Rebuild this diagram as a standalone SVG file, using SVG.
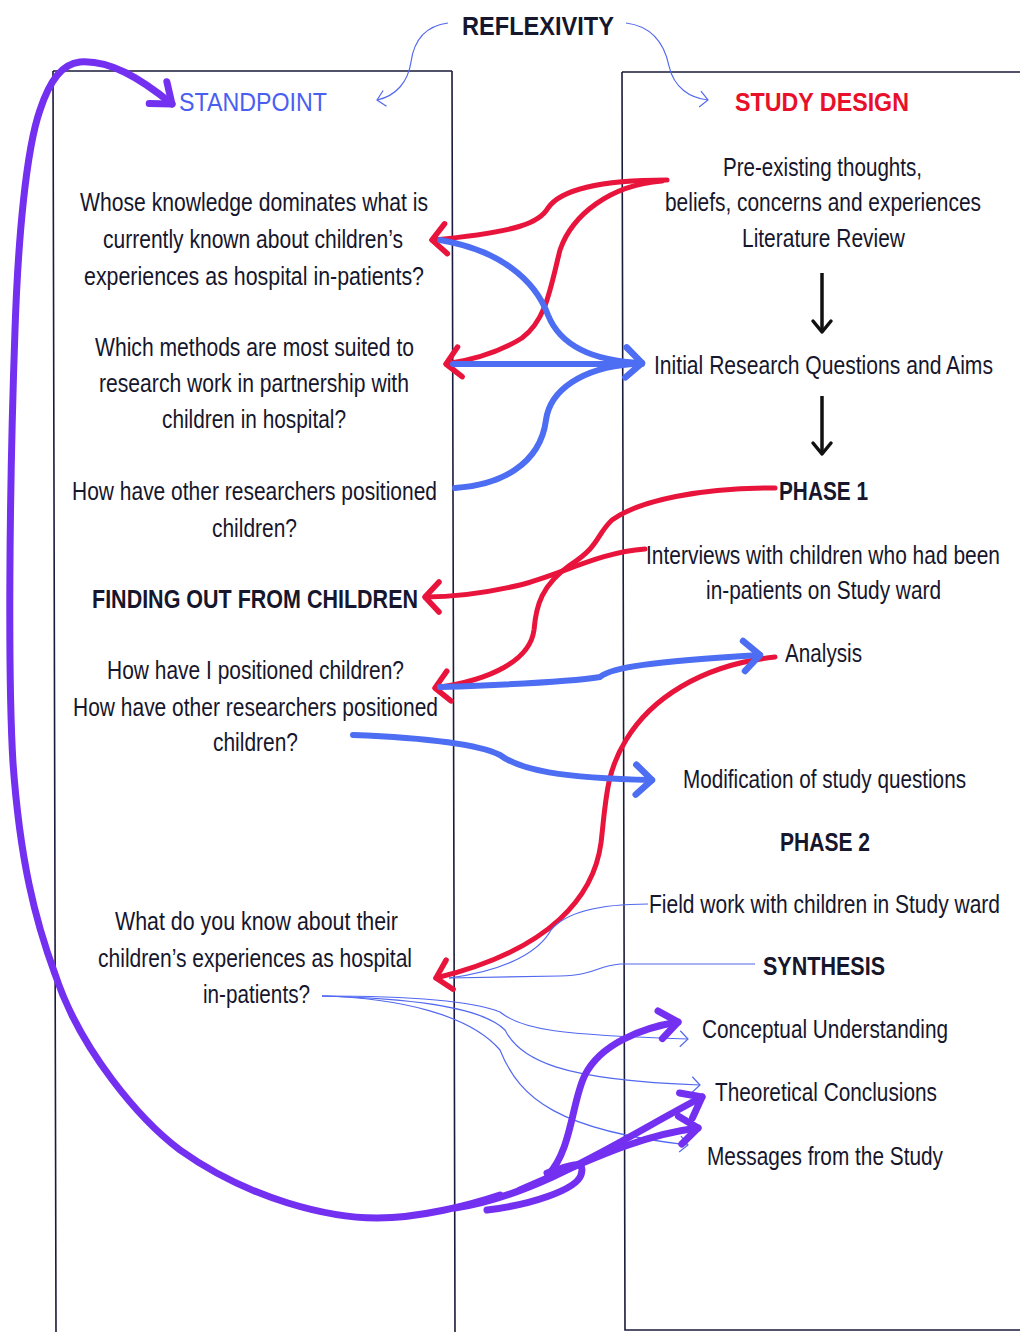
<svg xmlns="http://www.w3.org/2000/svg" width="1020" height="1332" viewBox="0 0 1020 1332">
<defs>
<style>
.t{font-family:"Liberation Sans",Arial,sans-serif;font-size:25px;fill:#16162c}
.b{font-weight:bold}
.box{fill:none;stroke:#1a1a3a;stroke-width:1.6}
.red{fill:none;stroke:#e8143c;stroke-width:5;stroke-linecap:round;marker-end:url(#mr)}
.blue{fill:none;stroke:#4d6df2;stroke-width:6;stroke-linecap:round}
.thin{fill:none;stroke:#5268f0;stroke-width:1.2}
.pur{fill:none;stroke:#7430f0;stroke-width:7;stroke-linecap:round}
</style>
<marker id="mr" viewBox="-20 -16 24 32" refX="0" refY="0" markerWidth="24" markerHeight="32" orient="auto" markerUnits="userSpaceOnUse" overflow="visible"><path d="M-14,-15 L0,0 L-14,15" fill="none" stroke="#e8143c" stroke-width="5.5" stroke-linecap="round" stroke-linejoin="round"/></marker>
<marker id="mb" viewBox="-22 -18 26 36" refX="0" refY="0" markerWidth="26" markerHeight="36" orient="auto" markerUnits="userSpaceOnUse" overflow="visible"><path d="M-16,-15 L0,0 L-16,15" fill="none" stroke="#4d6df2" stroke-width="6.5" stroke-linecap="round" stroke-linejoin="round"/></marker>
<marker id="mt" viewBox="-12 -10 14 20" refX="0" refY="0" markerWidth="14" markerHeight="20" orient="auto" markerUnits="userSpaceOnUse" overflow="visible"><path d="M-8,-8 L0,0 L-8,8" fill="none" stroke="#5268f0" stroke-width="1.2"/></marker>
<marker id="mp" viewBox="-24 -18 28 36" refX="0" refY="0" markerWidth="28" markerHeight="36" orient="auto" markerUnits="userSpaceOnUse" overflow="visible"><path d="M-18,-14 L0,0 L-18,14" fill="none" stroke="#7430f0" stroke-width="7" stroke-linecap="round" stroke-linejoin="round"/></marker>
<marker id="mk" viewBox="-14 -12 16 24" refX="0" refY="0" markerWidth="16" markerHeight="24" orient="auto" markerUnits="userSpaceOnUse" overflow="visible"><path d="M-11,-9 L0,0 L-11,9" fill="none" stroke="#111" stroke-width="3.5" stroke-linecap="round" stroke-linejoin="round"/></marker>
</defs>
<rect width="1020" height="1332" fill="#ffffff"/>

<g id="frames">
<path class="box" d="M53,71 L452,71 M53,71 L56,1332 M452,71 L455,1332"/>
<path class="box" d="M622,72 L1020,72 M622,72 L625,1330 L1020,1330"/>
</g>

<g id="title">
<text class="t b" font-size="28" transform="translate(462,35) scale(0.8,1)" textLength="190" lengthAdjust="spacingAndGlyphs">REFLEXIVITY</text>
</g>
<g id="standpoint">
<text class="t" font-size="28" style="fill:#4a5ef0" transform="translate(179,111) scale(0.8,1)" textLength="185" lengthAdjust="spacingAndGlyphs">STANDPOINT</text>
</g>
<g id="study-design">
<text class="t b" font-size="28" style="fill:#e8102a" transform="translate(735,111) scale(0.8,1)" textLength="217.5" lengthAdjust="spacingAndGlyphs">STUDY DESIGN</text>
</g>

<g id="q-knowledge">
<text class="t" transform="translate(80,211) scale(0.8,1)" textLength="435" lengthAdjust="spacingAndGlyphs">Whose knowledge dominates what is</text>
<text class="t" transform="translate(103,248) scale(0.8,1)" textLength="375" lengthAdjust="spacingAndGlyphs">currently known about children’s</text>
<text class="t" transform="translate(84,285) scale(0.8,1)" textLength="425" lengthAdjust="spacingAndGlyphs">experiences as hospital  in-patients?</text>
</g>
<g id="q-methods">
<text class="t" transform="translate(95,356) scale(0.8,1)" textLength="398.75" lengthAdjust="spacingAndGlyphs">Which methods are most suited to</text>
<text class="t" transform="translate(99,392) scale(0.8,1)" textLength="387.5" lengthAdjust="spacingAndGlyphs">research work in partnership  with</text>
<text class="t" transform="translate(162,428) scale(0.8,1)" textLength="230" lengthAdjust="spacingAndGlyphs">children in hospital?</text>
</g>
<g id="q-others">
<text class="t" transform="translate(72,500) scale(0.8,1)" textLength="456.25" lengthAdjust="spacingAndGlyphs">How have other researchers positioned</text>
<text class="t" transform="translate(212,537) scale(0.8,1)" textLength="106.25" lengthAdjust="spacingAndGlyphs">children?</text>
</g>
<g id="finding-out">
<text class="t b" transform="translate(92,608) scale(0.8,1)" textLength="407.5" lengthAdjust="spacingAndGlyphs">FINDING OUT FROM CHILDREN</text>
</g>
<g id="q-positioned">
<text class="t" transform="translate(107,679) scale(0.8,1)" textLength="371.25" lengthAdjust="spacingAndGlyphs">How have I positioned children?</text>
<text class="t" transform="translate(73,716) scale(0.8,1)" textLength="456.25" lengthAdjust="spacingAndGlyphs">How have other researchers positioned</text>
<text class="t" transform="translate(213,751) scale(0.8,1)" textLength="106.25" lengthAdjust="spacingAndGlyphs">children?</text>
</g>
<g id="q-parents">
<text class="t" transform="translate(115,930) scale(0.8,1)" textLength="353.75" lengthAdjust="spacingAndGlyphs">What  do you know about their</text>
<text class="t" transform="translate(98,967) scale(0.8,1)" textLength="392.5" lengthAdjust="spacingAndGlyphs">children’s experiences as hospital</text>
<text class="t" transform="translate(203,1003) scale(0.8,1)" textLength="133.75" lengthAdjust="spacingAndGlyphs">in-patients?</text>
</g>

<g id="pre-existing">
<text class="t" transform="translate(723,176) scale(0.8,1)" textLength="248.75" lengthAdjust="spacingAndGlyphs">Pre-existing thoughts,</text>
<text class="t" transform="translate(665,211) scale(0.8,1)" textLength="395" lengthAdjust="spacingAndGlyphs">beliefs, concerns and experiences</text>
<text class="t" transform="translate(742,247) scale(0.8,1)" textLength="203.75" lengthAdjust="spacingAndGlyphs">Literature Review</text>
</g>
<g id="initial">
<text class="t" transform="translate(654,374) scale(0.8,1)" textLength="423.75" lengthAdjust="spacingAndGlyphs">Initial Research Questions and Aims</text>
</g>
<g id="phase1">
<text class="t b" transform="translate(779,500) scale(0.8,1)" textLength="111.25" lengthAdjust="spacingAndGlyphs">PHASE 1</text>
</g>
<g id="interviews">
<text class="t" transform="translate(646,564) scale(0.8,1)" textLength="442.5" lengthAdjust="spacingAndGlyphs">Interviews with children who had been</text>
<text class="t" transform="translate(706,599) scale(0.8,1)" textLength="293.75" lengthAdjust="spacingAndGlyphs">in-patients on Study ward</text>
</g>
<g id="analysis">
<text class="t" transform="translate(785,662) scale(0.8,1)" textLength="96.25" lengthAdjust="spacingAndGlyphs">Analysis</text>
</g>
<g id="modification">
<text class="t" transform="translate(683,788) scale(0.8,1)" textLength="353.75" lengthAdjust="spacingAndGlyphs">Modification of study questions</text>
</g>
<g id="phase2">
<text class="t b" transform="translate(780,851) scale(0.8,1)" textLength="112.5" lengthAdjust="spacingAndGlyphs">PHASE 2</text>
</g>
<g id="fieldwork">
<text class="t" transform="translate(649,913) scale(0.8,1)" textLength="438.75" lengthAdjust="spacingAndGlyphs">Field work with children in Study ward</text>
</g>
<g id="synthesis">
<text class="t b" transform="translate(763,975) scale(0.8,1)" textLength="152.5" lengthAdjust="spacingAndGlyphs">SYNTHESIS</text>
</g>
<g id="conceptual">
<text class="t" transform="translate(702,1038) scale(0.8,1)" textLength="307.5" lengthAdjust="spacingAndGlyphs">Conceptual Understanding</text>
</g>
<g id="theoretical">
<text class="t" transform="translate(715,1101) scale(0.8,1)" textLength="277.5" lengthAdjust="spacingAndGlyphs">Theoretical Conclusions</text>
</g>
<g id="messages">
<text class="t" transform="translate(707,1165) scale(0.8,1)" textLength="295" lengthAdjust="spacingAndGlyphs">Messages from the Study</text>
</g>

<g id="connectors">
<path class="thin" d="M448,23 C425,26 414,40 411,62 C408,82 396,96 377,100" marker-end="url(#mt)"/>
<path class="thin" d="M626,23 C650,26 664,42 669,66 C674,88 690,98 708,100" marker-end="url(#mt)"/>
<path d="M822,273 L822,332" stroke="#111" stroke-width="3.5" marker-end="url(#mk)"/>
<path d="M822,396 L822,454" stroke="#111" stroke-width="3.5" marker-end="url(#mk)"/>
<path class="red" d="M667,180 C600,180 560,190 548,208 C540,222 520,232 432,240"/>
<path class="red" d="M662,181 C610,185 572,215 560,250 C550,290 546,320 522,338 C500,352 472,360 446,364"/>
<path class="red" d="M775,488 C700,488 640,500 612,520 C596,535 600,546 570,565 C542,585 536,605 534,630 C530,660 492,680 435,688"/>
<path class="red" d="M645,549 C600,552 560,575 520,585 C490,592 460,597 425,597"/>
<path class="red" d="M775,657 C700,665 650,700 626,740 C606,772 606,800 601,843 C594,895 552,950 436,978"/>
<path class="blue" d="M440,240 C500,250 535,280 548,315 C560,345 592,361 642,363" marker-end="url(#mb)"/>
<path class="blue" d="M453,364 L642,364"/>
<path class="blue" d="M455,488 C500,485 540,465 546,420 C550,390 582,368 632,364"/>
<path class="blue" d="M440,687 C500,685 570,682 600,677 C612,667 650,662 760,655" marker-end="url(#mb)"/>
<path class="blue" d="M353,735 C430,738 480,745 500,755 C520,770 560,778 652,780" marker-end="url(#mb)"/>
<path class="thin" d="M648,904 C600,904 566,912 551,930 C540,950 510,970 449,978"/>
<path class="thin" d="M755,964 L620,964 C596,966 596,975 560,976 L449,978"/>
<path class="thin" d="M322,996 C400,996 470,1000 500,1012 C522,1030 560,1035 688,1039" marker-end="url(#mt)"/>
<path class="thin" d="M322,996 C400,998 480,1005 505,1030 C520,1060 560,1080 700,1085" marker-end="url(#mt)"/>
<path class="thin" d="M322,996 C400,998 470,1015 500,1050 C520,1100 560,1130 688,1145" marker-end="url(#mt)"/>
<path class="pur" d="M500,1195 C470,1205 420,1218 377,1218 C330,1218 250,1200 180,1150 C140,1120 80,1050 55,974 C35,920 20,860 13,763 C8,680 9,500 15,330 C18,240 26,150 40,110 C50,80 62,64 80,62 C110,60 140,78 172,104" marker-end="url(#mp)"/>
<path class="pur" d="M548,1175 C572,1150 572,1100 585,1075 C600,1045 640,1028 678,1022" marker-end="url(#mp)"/>
<path class="pur" d="M455,1208 C540,1195 620,1140 702,1097" marker-end="url(#mp)"/>
<path class="pur" d="M520,1190 C590,1160 640,1135 698,1128" marker-end="url(#mp)"/>
<path class="pur" d="M547,1173 C570,1166 586,1158 581,1175 C576,1190 530,1205 487,1210"/>
</g>
</svg>
